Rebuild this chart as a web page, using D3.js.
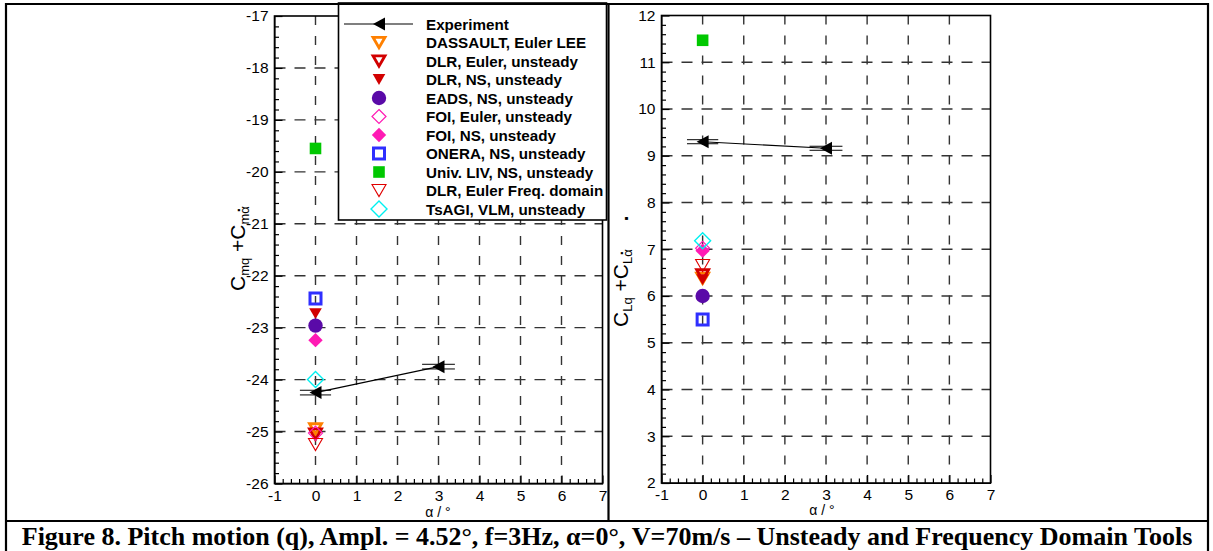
<!DOCTYPE html>
<html>
<head>
<meta charset="utf-8">
<script src="https://cdn.jsdelivr.net/npm/d3@7"></script>
<style>
    body { margin: 0; background: #fff; }
    svg { display: block; }
    text { font-family: "Liberation Sans", Arial, sans-serif; fill: #000; }
</style>
</head>
<body>
<svg id="fig" width="1213" height="551"></svg>
<script>
// ---- values ----
var alphaTicks = [-1, 0, 1, 2, 3, 4, 5, 6, 7];
var cmTicks = [-26, -25, -24, -23, -22, -21, -20, -19, -18, -17];
var clTicks = [2, 3, 4, 5, 6, 7, 8, 9, 10, 11, 12];

// experiment (alpha, value) + half widths of the double bars
var expAlpha = [0, 3];
var expCm = [-24.25, -23.75];
var expCl = [9.30, 9.16];
var expAlphaErr = [0.38, 0.4];
var expCmBand = [0.045, 0.045];
var expClBand = [0.043, 0.043];

// computations, all at alpha = 0
var sources = ["DASSAULT, Euler LEE", "DLR, Euler, unsteady", "DLR, NS, unsteady",
    "EADS, NS, unsteady", "FOI, Euler, unsteady", "FOI, NS, unsteady",
    "ONERA, NS, unsteady", "Univ. LIV, NS, unsteady", "DLR, Euler Freq. domain",
    "TsAGI, VLM, unsteady"];
var cfdAlpha = [0, 0, 0, 0, 0, 0, 0, 0, 0, 0];
var cmValues = [-24.95, -25.05, -22.73, -22.96, -25.03, -23.24, -22.44, -19.55, -25.25, -24.0];
var clValues = [6.38, 6.45, 6.35, 6.0, 7.02, 6.97, 5.5, 11.47, 6.65, 7.18];

var captionText = "Figure 8. Pitch motion (q), Ampl. = 4.52\u00b0, f=3Hz, \u03b1=0\u00b0, V=70m/s \u2013 Unsteady and Frequency Domain Tools";

// ---- marker styles (same order as sources) ----
var markerStyles = [
    { shape: "tri", color: "#ff8000", fill: false, r: 6, sw: 2.8 },
    { shape: "tri", color: "#d20000", fill: false, r: 6, sw: 2.8 },
    { shape: "tri", color: "#d20000", fill: true, r: 6.3 },
    { shape: "circle", color: "#5a0aa8", fill: true, r: 7.2 },
    { shape: "diamond", color: "#ff1ab4", fill: false, r: 7, sw: 1.2 },
    { shape: "diamond", color: "#ff1ab4", fill: true, r: 7.2 },
    { shape: "square", color: "#2f2fff", fill: false, r: 5.5, sw: 3 },
    { shape: "square", color: "#00c800", fill: true, r: 5.8 },
    { shape: "tri", color: "#e00000", fill: false, r: 7, sw: 1.1 },
    { shape: "diamond", color: "#00f0f0", fill: false, r: 8, sw: 1.4 }
];

var svg = d3.select("#fig");

var symbolPath = function (shape, r) {
    if (shape == "tri") {
        var h = r * 1.73;
        return "M" + (-r) + "," + (-h / 2) + "L" + r + "," + (-h / 2) + "L0," + (h / 2) + "Z";
    }
    if (shape == "diamond")
        return "M0," + (-r) + "L" + r + ",0L0," + r + "L" + (-r) + ",0Z";
    if (shape == "square")
        return "M" + (-r) + "," + (-r) + "h" + (2 * r) + "v" + (2 * r) + "h" + (-2 * r) + "Z";
    if (shape == "arrow")
        return "M-6,0L6,-6.5L6,6.5Z";
    // circle
    return "M" + r + ",0A" + r + "," + r + " 0 1,1 " + (-r) + ",0A" + r + "," + r + " 0 1,1 " + r + ",0Z";
};

var drawMarker = function (sel, st) {
    sel.append("path")
        .attr("d", symbolPath(st.shape, st.r))
        .attr("fill", st.fill ? st.color : "none")
        .attr("stroke", st.fill ? "none" : st.color)
        .attr("stroke-width", st.sw || 0)
        .attr("stroke-linejoin", "miter");
};

var drawPanel = function (p) {
    var x = d3.scaleLinear().domain([-1, 7]).range(p.xRange);
    var y = d3.scaleLinear().domain(d3.extent(p.yTicks)).range(p.yRange);
    var g = svg.append("g");

    // dashed grid
    g.selectAll(".hgrid").data(p.yTicks.slice(1, -1)).enter().append("line")
        .attr("x1", p.xRange[0]).attr("x2", p.xRange[1])
        .attr("y1", function (d) { return y(d); }).attr("y2", function (d) { return y(d); })
        .attr("stroke", "#333").attr("stroke-width", 1.4).attr("stroke-dasharray", "11,9");
    g.selectAll(".vgrid").data(alphaTicks.slice(1, -1)).enter().append("line")
        .attr("y1", p.yRange[1]).attr("y2", p.yRange[0])
        .attr("x1", function (d) { return x(d); }).attr("x2", function (d) { return x(d); })
        .attr("stroke", "#333").attr("stroke-width", 1.4).attr("stroke-dasharray", "9,11");

    // minor ticks every 0.2
    var minorX = d3.range(-1, 7.001, 0.2).filter(function (v) { return Math.abs(v - Math.round(v)) > 0.01; });
    var minorY = d3.range(y.domain()[0], y.domain()[1] + 0.001, 0.2).filter(function (v) { return Math.abs(v - Math.round(v)) > 0.01; });
    var label = function (d) { return String(d); };   // plain hyphen minus, like the original

    var xa = g.append("g").attr("transform", "translate(0," + p.yRange[0] + ")")
        .call(d3.axisBottom(x).tickValues(alphaTicks).tickSizeInner(-8).tickSizeOuter(0)
            .tickPadding(6).tickFormat(label));
    g.append("g").attr("transform", "translate(0," + p.yRange[0] + ")")
        .call(d3.axisBottom(x).tickValues(minorX).tickSizeInner(-4.5).tickSizeOuter(0).tickFormat(""))
        .select(".domain").remove();
    var ya = g.append("g").attr("transform", "translate(" + p.xRange[0] + ",0)")
        .call(d3.axisLeft(y).tickValues(p.yTicks).tickSizeInner(-8).tickSizeOuter(0)
            .tickPadding(6).tickFormat(label));
    g.append("g").attr("transform", "translate(" + p.xRange[0] + ",0)")
        .call(d3.axisLeft(y).tickValues(minorY).tickSizeInner(-4.5).tickSizeOuter(0).tickFormat(""))
        .select(".domain").remove();

    g.selectAll(".tick line").attr("stroke", "#000").attr("stroke-width", 1.2);
    g.selectAll(".tick text").style("font-size", "15.5px").attr("font-family", null).attr("fill", "#000");
    xa.selectAll(".tick text").attr("dy", "0.72em");

    // plot frame
    g.append("rect")
        .attr("x", p.xRange[0]).attr("y", p.yRange[1])
        .attr("width", p.xRange[1] - p.xRange[0]).attr("height", p.yRange[0] - p.yRange[1])
        .attr("fill", "none").attr("stroke", "#000").attr("stroke-width", 1.6);

    // x title
    g.append("text")
        .attr("x", p.xTitle[0]).attr("y", p.xTitle[1])
        .attr("text-anchor", "middle").style("font-size", "14px")
        .text("\u03b1 / \u00b0");

    // experiment: connecting line, double bars, arrows
    var exp = expAlpha.map(function (a, i) {
        return { a: a, v: p.expValues[i], err: expAlphaErr[i], band: p.expBand[i] };
    });
    g.append("path")
        .attr("d", d3.line().x(function (d) { return x(d.a); }).y(function (d) { return y(d.v); })(exp))
        .attr("fill", "none").attr("stroke", "#000").attr("stroke-width", 1.1);
    exp.forEach(function (d) {
        [-1, 1].forEach(function (s) {
            g.append("line")
                .attr("x1", x(d.a - d.err)).attr("x2", x(d.a + d.err))
                .attr("y1", y(d.v + s * d.band)).attr("y2", y(d.v + s * d.band))
                .attr("stroke", "#000").attr("stroke-width", 1);
        });
    });
    g.selectAll(".exp").data(exp).enter().append("path")
        .attr("transform", function (d) { return "translate(" + x(d.a) + "," + y(d.v) + ")"; })
        .attr("d", symbolPath("arrow")).attr("fill", "#000");

    // computations
    p.values.forEach(function (v, i) {
        var m = g.append("g").attr("transform", "translate(" + x(cfdAlpha[i]) + "," + y(v) + ")");
        drawMarker(m, markerStyles[i]);
    });

    // y title, rotated with subscripts and the time-derivative dot
    var t = g.append("text")
        .attr("transform", "translate(" + p.yTitle[0] + "," + p.yTitle[1] + ") rotate(-90)")
        .style("font-size", "21px");
    t.append("tspan").text("C");
    t.append("tspan").attr("dy", 4).style("font-size", "13px").text(p.sub1);
    t.append("tspan").attr("dy", -4).text(" +C");
    t.append("tspan").attr("dy", 4).style("font-size", "13px").text(p.sub2);
    t.append("tspan").attr("dx", -6).attr("dy", -9.5)
        .style("font-size", "15px").style("font-weight", "bold").text(".");
    if (p.strayDot)
        t.append("tspan").attr("dx", 30).attr("dy", 5.5).style("font-size", "20px").style("font-weight", "bold").text(".");

    return { x: x, y: y, g: g };
};

var left = drawPanel({
    xRange: [274.5, 602.5], yRange: [483.5, 16], yTicks: cmTicks,
    values: cmValues, expValues: expCm, expBand: expCmBand,
    xTitle: [438, 517], yTitle: [245, 291], sub1: "mq", sub2: "m\u03b1"
});
var right = drawPanel({
    xRange: [661.5, 990.5], yRange: [483, 15.5], yTicks: clTicks,
    values: clValues, expValues: expCl, expBand: expClBand,
    xTitle: [822, 515], yTitle: [628, 327], sub1: "Lq", sub2: "L\u03b1", strayDot: true
});

// ---- legend on the left panel ----
var lg = svg.append("g");
lg.append("rect").attr("x", 338.5).attr("y", 3).attr("width", 268).attr("height", 217)
    .attr("fill", "#fff").attr("stroke", "#000").attr("stroke-width", 1.6);
var rowY = d3.scaleLinear().domain([0, 10]).range([24, 209]);
lg.append("line").attr("x1", 344).attr("x2", 413).attr("y1", rowY(0)).attr("y2", rowY(0))
    .attr("stroke", "#000").attr("stroke-width", 1.1);
lg.append("path").attr("transform", "translate(379," + rowY(0) + ")").attr("d", symbolPath("arrow")).attr("fill", "#000");
lg.append("text").attr("x", 426).attr("y", rowY(0) + 5.5)
    .style("font-size", "15.2px").style("font-weight", "bold").text("Experiment");
sources.forEach(function (s, i) {
    var m = lg.append("g").attr("transform", "translate(379," + rowY(i + 1) + ")");
    drawMarker(m, markerStyles[i]);
    lg.append("text").attr("x", 426).attr("y", rowY(i + 1) + 5.5)
        .style("font-size", "15.2px").style("font-weight", "bold").text(s);
});

// ---- page frame and caption ----
var frame = svg.append("g").attr("stroke", "#000").attr("stroke-width", 2.2);
frame.append("line").attr("x1", 5).attr("x2", 1209).attr("y1", 4).attr("y2", 4);
frame.append("line").attr("x1", 5).attr("x2", 1209).attr("y1", 521).attr("y2", 521);
frame.append("line").attr("x1", 6).attr("x2", 6).attr("y1", 3).attr("y2", 551);
frame.append("line").attr("x1", 1208).attr("x2", 1208).attr("y1", 3).attr("y2", 551);
frame.append("line").attr("x1", 608.5).attr("x2", 608.5).attr("y1", 3).attr("y2", 521);

var cap = svg.append("text")
    .attr("x", 607).attr("y", 545).attr("text-anchor", "middle")
    .style("font-family", "'Liberation Serif', 'Times New Roman', serif")
    .style("font-weight", "bold").style("font-size", "21px")
    .text(captionText);
var w = cap.node().getComputedTextLength();
cap.style("font-size", (21 * 1171 / w) + "px");
</script>
</body>
</html>
